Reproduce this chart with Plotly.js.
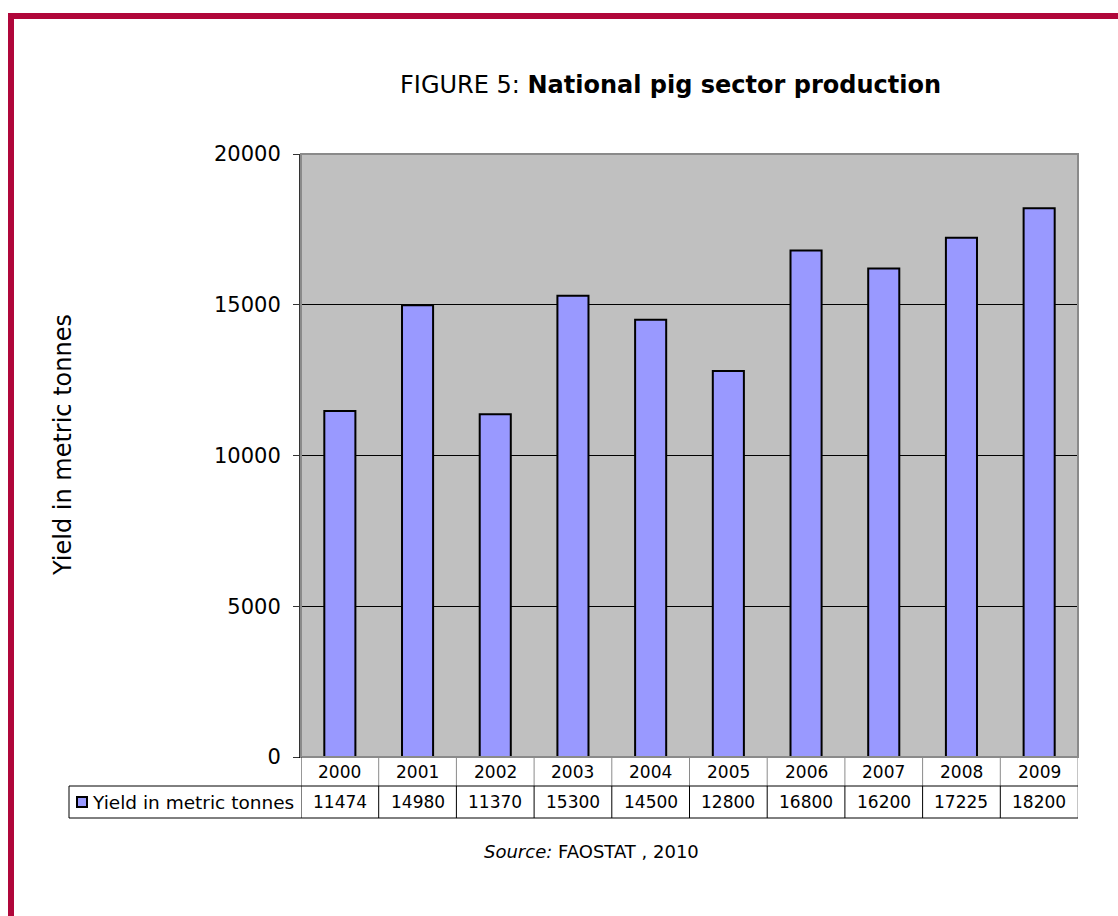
<!DOCTYPE html>
<html>
<head>
<meta charset="utf-8">
<script src="https://cdn.plot.ly/plotly-3.0.1.min.js"></script>
<style>
html,body{margin:0;padding:0;background:#fff;}
#chart{width:1118px;height:916px;}
</style>
</head>
<body>
<div id="chart"></div>
<script>
// ---- data ----
const years = ["2000","2001","2002","2003","2004","2005","2006","2007","2008","2009"];
const yieldValues = [11474, 14980, 11370, 15300, 14500, 12800, 16800, 16200, 17225, 18200];
const seriesName = "Yield in metric tonnes";
const yTickVals = [0, 5000, 10000, 15000, 20000];
const yTickText = ["0", "5000", "10000", "15000", "20000"];

// ---- layout helpers (pixel -> paper) ----
const W = 1118, H = 916;
const L = 301, R = 1078, T = 154, B = 757;
const px = x => (x - L) / (R - L);
const py = y => (B - y) / (B - T);

const FONT = "DejaVu Sans, Verdana, sans-serif";
const row1Top = 757, row1Bot = 786, row2Bot = 818;

const shapes = [];
const annotations = [];

// crimson frame
shapes.push({type:"rect", xref:"paper", yref:"paper",
  x0: px(11), x1: px(1140), y0: py(16), y1: py(940),
  line:{color:"#b0063a", width:6}, fillcolor:"rgba(0,0,0,0)", layer:"below"});

// plot border (top/right grey)
shapes.push({type:"rect", xref:"paper", yref:"paper", x0:0, x1:1, y0:0, y1:1,
  line:{color:"#8a8a8a", width:2}, fillcolor:"rgba(0,0,0,0)"});

// table: vertical separators
for (let i = 0; i <= years.length; i++) {
  const xv = i - 0.5;
  shapes.push({type:"line", xref:"x", yref:"paper", x0:xv, x1:xv, y0:py(row1Top), y1:py(row1Bot),
    line:{color: (i === 0) ? "#333" : "#8a8a8a", width:1}});
  shapes.push({type:"line", xref:"x", yref:"paper", x0:xv, x1:xv, y0:py(row1Bot), y1:py(row2Bot),
    line:{color: (i === years.length) ? "#8a8a8a" : "#000", width:1}});
}
// table horizontal lines
shapes.push({type:"line", xref:"paper", yref:"paper", x0:px(69), x1:1, y0:py(row1Bot), y1:py(row1Bot), line:{color:"#000", width:1}});
shapes.push({type:"line", xref:"paper", yref:"paper", x0:px(69), x1:1, y0:py(row2Bot), y1:py(row2Bot), line:{color:"#000", width:1}});
shapes.push({type:"line", xref:"paper", yref:"paper", x0:px(69), x1:px(69), y0:py(row1Bot), y1:py(row2Bot), line:{color:"#000", width:1}});

// legend key
shapes.push({type:"rect", xref:"paper", yref:"paper", x0:px(77), x1:px(87), y0:py(807), y1:py(797),
  line:{color:"#000", width:2}, fillcolor:"#9999ff"});
annotations.push({xref:"paper", yref:"paper", x:px(90), y:py((row1Bot+row2Bot)/2), xanchor:"left", yanchor:"middle",
  text: seriesName, showarrow:false, font:{family:FONT, size:18.5, color:"#000"}});

// table cells
years.forEach((yr, i) => {
  annotations.push({xref:"x", yref:"paper", x:i, y:py((row1Top+row1Bot)/2), xanchor:"center", yanchor:"middle",
    text: yr, showarrow:false, font:{family:FONT, size:17, color:"#000"}});
  annotations.push({xref:"x", yref:"paper", x:i, y:py((row1Bot+row2Bot)/2), xanchor:"center", yanchor:"middle",
    text: String(yieldValues[i]), showarrow:false, font:{family:FONT, size:17, color:"#000"}});
});

// title
annotations.push({xref:"paper", yref:"paper", x:px(670), y:py(85), xanchor:"center", yanchor:"middle",
  text:"FIGURE 5: <b>National pig sector production</b>", showarrow:false,
  font:{family:FONT, size:24, color:"#000"}});

// y axis title
annotations.push({xref:"paper", yref:"paper", x:px(63), y:py(445), xanchor:"center", yanchor:"middle",
  text: seriesName, textangle:-90, showarrow:false, font:{family:FONT, size:24, color:"#000"}});

// source
annotations.push({xref:"paper", yref:"paper", x:px(591), y:py(851), xanchor:"center", yanchor:"middle",
  text:"<i>Source:</i> FAOSTAT , 2010", showarrow:false, font:{family:FONT, size:18, color:"#000"}});

const trace = {
  type:"bar", x: years.map((_, i) => i), y: yieldValues, name: seriesName,
  marker:{color:"#9999ff", line:{color:"#000", width:2}},
  hoverinfo:"skip"
};

const layout = {
  width: W, height: H,
  margin:{l:L, r:W-R, t:T, b:H-B, pad:0},
  paper_bgcolor:"#fff", plot_bgcolor:"#c0c0c0",
  showlegend:false,
  bargap:0.6,
  xaxis:{range:[-0.5, years.length-0.5], showticklabels:false, ticks:"", showgrid:false, zeroline:false,
    showline:true, linecolor:"#000", linewidth:1, fixedrange:true},
  yaxis:{range:[0, 20000], tickvals:yTickVals, ticktext:yTickText, ticks:"outside", ticklen:6, tickcolor:"#333", tickwidth:1,
    showline:true, linecolor:"#333", linewidth:2, showgrid:true, gridcolor:"#000", gridwidth:1, zeroline:false,
    ticklabelstandoff:8, tickfont:{family:FONT, size:21, color:"#000"}, fixedrange:true},
  shapes, annotations,
  font:{family:FONT}
};

Plotly.newPlot("chart", [trace], layout, {displayModeBar:false, staticPlot:true});
</script>
</body>
</html>
